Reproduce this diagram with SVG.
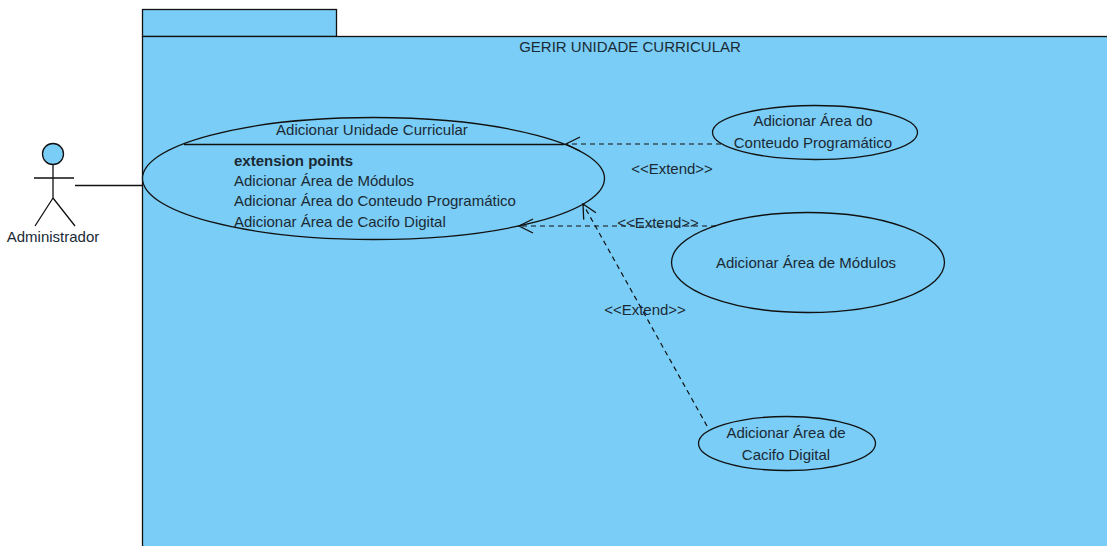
<svg xmlns="http://www.w3.org/2000/svg" width="1107" height="546" viewBox="0 0 1107 546">
<style>
text{font-family:"Liberation Sans",Arial,sans-serif;font-size:15px;fill:#1a2a35}
.m{text-anchor:middle}
.s{fill:#7acdf6;stroke:#111;stroke-width:1.3}
.u{fill:none;stroke:#111;stroke-width:1.3}
.d{fill:none;stroke:#111;stroke-width:1.2;stroke-dasharray:5 4}
</style>
<defs><marker id="a" markerWidth="20" markerHeight="20" refX="15" refY="8" orient="auto" markerUnits="userSpaceOnUse"><path d="M1 1L15 8L1 15" fill="none" stroke="#111" stroke-width="1.3"/></marker></defs>
<rect width="1107" height="546" fill="#fff"/>
<g id="package"><rect class="s" x="142.500" y="9.500" width="194" height="27"/><rect class="s" x="142.500" y="36.500" width="966" height="511"/><text class="m" x="630" y="52">GERIR UNIDADE CURRICULAR</text></g>
<g id="actor"><circle cx="53" cy="154" r="10.500" fill="#7acdf6" stroke="#111" stroke-width="1.300"/><path class="u" d="M53 165V198M34 178H74M53 198L35 226M53 198L75 226"/><text class="m" x="53" y="242">Administrador</text></g>
<g id="uc-main"><ellipse class="s" cx="373.500" cy="178.500" rx="231" ry="61"/><path class="u" d="M184 144.500H564"/><text class="m" x="372" y="135">Adicionar Unidade Curricular</text><text x="234" y="166" style="font-weight:bold">extension points</text><text x="234" y="186">Adicionar Área de Módulos</text><text x="234" y="206">Adicionar Área do Conteudo Programático</text><text x="234" y="227">Adicionar Área de Cacifo Digital</text></g>
<g id="uc-conteudo"><ellipse class="s" cx="815" cy="132.500" rx="102.500" ry="27"/><text class="m" x="813" y="126">Adicionar Área do</text><text class="m" x="813" y="148">Conteudo Programático</text></g>
<g id="uc-modulos"><ellipse class="s" cx="808" cy="262.500" rx="136.500" ry="50"/><text class="m" x="806" y="268">Adicionar Área de Módulos</text></g>
<g id="uc-cacifo"><ellipse class="s" cx="787" cy="443.500" rx="88.500" ry="27"/><text class="m" x="786" y="438">Adicionar Área de</text><text class="m" x="786" y="460">Cacifo Digital</text></g>
<g id="connectors"><path class="u" d="M75 185.500H143"/><path class="d" marker-end="url(#a)" d="M721 144L566 144"/><path class="d" marker-end="url(#a)" d="M716 226L519 226"/><path class="d" marker-end="url(#a)" d="M707 426L583 204"/></g>
<g id="labels"><text class="m" x="672" y="174">&lt;&lt;Extend&gt;&gt;</text><text class="m" x="658" y="228">&lt;&lt;Extend&gt;&gt;</text><text class="m" x="645" y="315">&lt;&lt;Extend&gt;&gt;</text></g>
</svg>
